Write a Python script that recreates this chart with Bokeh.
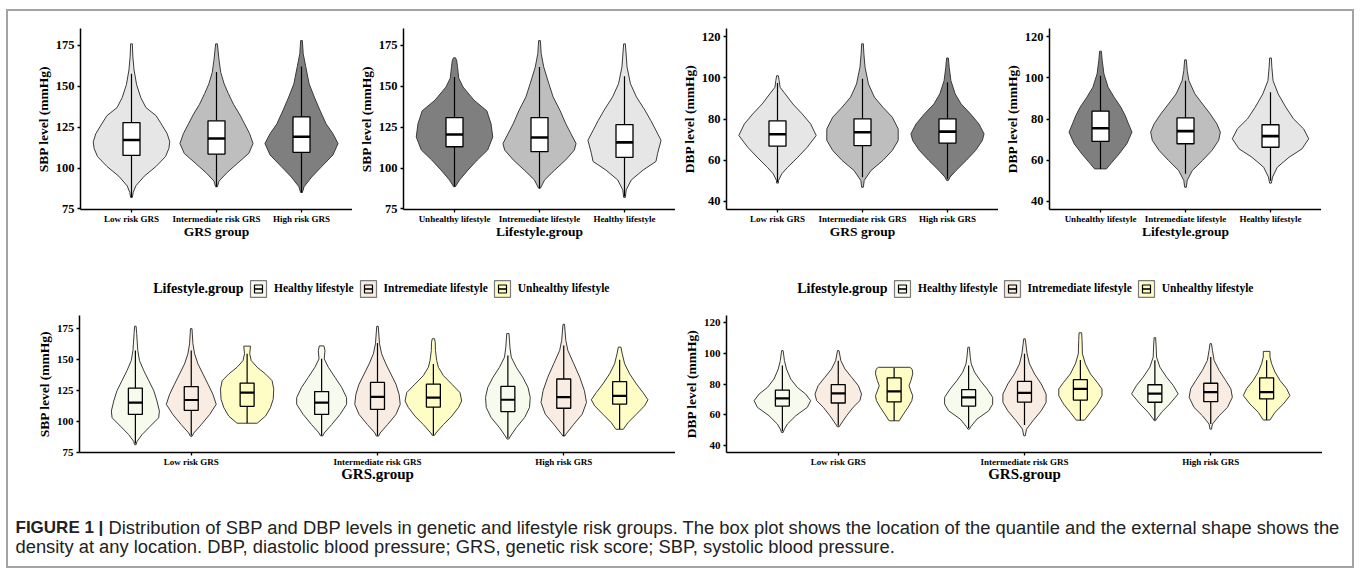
from bokeh.plotting import figure
from bokeh.layouts import column, row
from bokeh.models import FixedTicker, Range1d, Legend, LegendItem, Label
from bokeh.embed import file_html
from bokeh.resources import INLINE

# ---------------- data ----------------
grs_groups = ["Low risk GRS", "Intermediate risk GRS", "High risk GRS"]
life_top_groups = ["Unhealthy lifestyle", "Intremediate lifestyle", "Healthy lifestyle"]
life_groups = ["Healthy lifestyle", "Intremediate lifestyle", "Unhealthy lifestyle"]
legend_title = "Lifestyle.group"
sbp_ticks = [75, 100, 125, 150, 175]
dbp_ticks = [40, 60, 80, 100, 120]

# violin outlines: (blood pressure value, half-width in category units), bottom to top
sbp_grs_low = [(82, 0.01), (85, 0.02), (89, 0.05), (95, 0.15), (101, 0.29), (107, 0.40), (112, 0.44), (116, 0.45),
               (121, 0.42), (127, 0.35), (132, 0.29), (137, 0.17), (143, 0.11), (151, 0.06), (160, 0.03),
               (168, 0.016), (176, 0.01)]
sbp_grs_int = [(88.5, 0.01), (92, 0.03), (97, 0.12), (103, 0.25), (109, 0.38), (115, 0.43), (121, 0.39),
               (127, 0.33), (133, 0.27), (139, 0.20), (145.5, 0.14), (151.5, 0.09), (158.5, 0.05), (166, 0.03),
               (176, 0.01)]
sbp_grs_high = [(85, 0.01), (88.5, 0.03), (94.5, 0.12), (101, 0.24), (108, 0.37), (115, 0.43), (121, 0.37),
                (127, 0.29), (135, 0.22), (143.5, 0.15), (151.5, 0.09), (162, 0.05), (170, 0.02), (178, 0.01)]
sbp_grs_box = [(82, 107.7, 117.1, 127.8, 157.7), (88.6, 108.5, 118.1, 128.9, 158.7), (85, 109.6, 119.1, 131.3, 162.2)]

sbp_life_unh = [(88.6, 0.01), (92.7, 0.06), (98.8, 0.16), (105, 0.27), (111, 0.39), (119, 0.45), (127, 0.43),
                (135, 0.38), (141.5, 0.23), (149.6, 0.10), (155, 0.05), (162, 0.035), (166, 0.025), (167.5, 0.01)]
sbp_life_int = [(87.6, 0.01), (92.7, 0.06), (98.8, 0.18), (105, 0.31), (111, 0.41), (115, 0.43), (121, 0.37),
                (127, 0.31), (135.4, 0.24), (143.5, 0.16), (151.6, 0.11), (161.8, 0.05), (170, 0.02), (178, 0.01)]
sbp_life_hea = [(82, 0.01), (86.6, 0.02), (92.7, 0.08), (98.8, 0.22), (104, 0.37), (109, 0.39), (117, 0.43),
                (123, 0.37), (129, 0.31), (135.4, 0.24), (143.5, 0.14), (151.6, 0.07), (161.8, 0.03), (176, 0.01)]
sbp_life_box = [(88.6, 113, 120.5, 130.9, 155.7), (87.6, 110, 118.7, 130.9, 161.8), (82.5, 106.5, 115.7, 126.6, 156.1)]

dbp_grs_low = [(48.9, 0.01), (50.2, 0.012), (53.4, 0.05), (56.6, 0.12), (61.5, 0.24), (66.3, 0.35), (72, 0.455),
               (77.6, 0.39), (82.5, 0.29), (87.3, 0.18), (92.2, 0.09), (95.4, 0.03), (98.6, 0.02), (101, 0.01)]
dbp_grs_int = [(46.9, 0.01), (50.2, 0.02), (55, 0.10), (59.9, 0.24), (64.7, 0.35), (69.6, 0.42), (75.2, 0.42),
               (80.9, 0.35), (85.7, 0.24), (90.6, 0.14), (97, 0.07), (105.1, 0.03), (111.6, 0.016), (116.5, 0.01)]
dbp_grs_high = [(50.2, 0.01), (51.8, 0.03), (55, 0.10), (59.9, 0.22), (64.7, 0.33), (69.6, 0.41), (72.8, 0.43),
                (77.6, 0.37), (82.5, 0.27), (87.3, 0.16), (92.2, 0.09), (98.6, 0.04), (105.1, 0.02), (109.6, 0.01)]
dbp_grs_box = [(49.4, 66.8, 72.6, 79.1, 97.5), (51.8, 67.1, 73.6, 80.1, 99.5), (51, 68.3, 73.9, 80.1, 97.8)]

dbp_life_unh = [(55.8, 0.07), (58.3, 0.12), (63.1, 0.22), (68, 0.31), (73.6, 0.37), (77.6, 0.33), (81.7, 0.29),
                (85.7, 0.24), (90.6, 0.16), (95.4, 0.09), (101.9, 0.04), (108.4, 0.02), (112.9, 0.01)]
dbp_life_int = [(46.9, 0.01), (50.2, 0.02), (55, 0.08), (59.9, 0.20), (64.7, 0.31), (69.6, 0.39), (73.6, 0.41),
                (77.6, 0.37), (82.5, 0.29), (87.3, 0.20), (92.2, 0.11), (98.6, 0.04), (103.5, 0.02), (108.7, 0.01)]
dbp_life_hea = [(48.9, 0.01), (51.8, 0.024), (56.6, 0.08), (61.5, 0.22), (65.5, 0.37), (70.4, 0.45), (75.2, 0.39),
                (80.1, 0.27), (85.7, 0.18), (92.2, 0.09), (98.6, 0.03), (105.1, 0.016), (109.6, 0.01)]
dbp_life_box = [(55.8, 69.1, 75.5, 83.8, 101), (53.4, 68, 74.1, 80.5, 98.6), (50, 66.3, 71.7, 77.2, 93)]

# bottom panels: GRS group x lifestyle
sbp_low_hea = [(81, 0.004), (83.7, 0.009), (89.2, 0.036), (96, 0.08), (102.8, 0.125), (108.2, 0.129), (116.4, 0.116),
               (124.6, 0.099), (132.8, 0.072), (141, 0.045), (149.1, 0.022), (157.3, 0.013), (170.9, 0.007), (176.9, 0.004)]
sbp_low_int = [(87.8, 0.004), (90.5, 0.014), (97.3, 0.054), (105.5, 0.099), (113.7, 0.134), (121.9, 0.116),
               (130, 0.09), (138.2, 0.063), (146.4, 0.036), (154.6, 0.018), (162.7, 0.009), (175, 0.004)]
sbp_low_unh = [(98.4, 0.054), (104.2, 0.099), (111, 0.125), (117.8, 0.14), (126, 0.143), (132.8, 0.134),
               (138.2, 0.099), (143.7, 0.054), (149.1, 0.022), (154.6, 0.014), (160.8, 0.018)]
sbp_mid_hea = [(88.2, 0.006), (90.5, 0.014), (97.3, 0.054), (105.5, 0.099), (113.7, 0.134), (119.1, 0.134),
               (127.3, 0.108), (135.5, 0.072), (143.7, 0.036), (150.5, 0.014), (157.3, 0.018), (161, 0.012)]
sbp_mid_int = [(88, 0.006), (90.5, 0.014), (97.3, 0.054), (105.5, 0.099), (113.7, 0.122), (121.9, 0.116),
               (130, 0.099), (138.2, 0.072), (146.4, 0.045), (154.6, 0.022), (162.7, 0.011), (176.9, 0.004)]
sbp_mid_unh = [(88.6, 0.006), (90.5, 0.014), (97.3, 0.054), (104.2, 0.099), (111, 0.134), (116.4, 0.152),
               (123.2, 0.143), (130, 0.099), (136.9, 0.054), (143.7, 0.027), (149.1, 0.018), (157.3, 0.011),
               (164, 0.01), (166.8, 0.006)]
sbp_high_hea = [(85.6, 0.005), (88, 0.014), (94.8, 0.045), (103, 0.09), (111.1, 0.116), (119.3, 0.12),
                (127.4, 0.108), (135.6, 0.08), (143.7, 0.045), (151.9, 0.018), (160, 0.011), (171, 0.006)]
sbp_high_int = [(88, 0.005), (90, 0.014), (97.6, 0.054), (105.7, 0.099), (115.2, 0.122), (124.7, 0.111),
                (135.6, 0.086), (146.5, 0.054), (157.3, 0.022), (165.5, 0.011), (178.5, 0.004)]
sbp_high_unh = [(93.5, 0.02), (98.9, 0.045), (105.7, 0.09), (112.5, 0.134), (117.4, 0.152), (123.3, 0.125),
                (130.2, 0.09), (138.3, 0.054), (146.5, 0.027), (154.6, 0.014), (160, 0.007)]
# box stats (lower whisker, Q1, median, Q3, upper whisker) for Low / Intermediate / High risk GRS
sbp_hea_box = [(82, 105.5, 115, 126.8, 157.3), (88.2, 105.5, 115, 124, 150.5), (86.5, 107.8, 117.4, 128.2, 153.2)]
sbp_int_box = [(88.5, 108.8, 117.2, 128.1, 157.3), (88.2, 109.6, 119.7, 131.4, 163.3), (88, 110.5, 119.5, 134.2, 161.4)]
sbp_unh_box = [(98.4, 112.1, 123.2, 130.9, 154.6), (88.6, 111.5, 119.1, 130, 146.4), (93.5, 113.8, 120.6, 132, 149.7)]

dbp_low_hea = [(48.6, 0.004), (50.8, 0.011), (54.1, 0.027), (59.5, 0.072), (64.9, 0.134), (69.2, 0.152),
               (73.5, 0.125), (77.8, 0.08), (83.2, 0.045), (89.7, 0.022), (95.1, 0.011), (101.6, 0.004)]
dbp_low_int = [(52.3, 0.005), (54.1, 0.014), (59.5, 0.045), (64.9, 0.08), (69.2, 0.116), (73.5, 0.125),
               (78.9, 0.108), (84.3, 0.072), (89.7, 0.036), (95.1, 0.014), (101.6, 0.004)]
dbp_low_unh = [(56.2, 0.027), (60.5, 0.05), (65, 0.075), (69.2, 0.095), (72.4, 0.1), (75.5, 0.09), (78.9, 0.08),
               (82.2, 0.09), (86.5, 0.1), (89.5, 0.097), (90.8, 0.085)]
dbp_mid_hea = [(50.8, 0.004), (52.3, 0.011), (57.3, 0.045), (62.7, 0.108), (67, 0.129), (71.4, 0.129),
               (76.8, 0.099), (82.2, 0.063), (87.6, 0.032), (93, 0.014), (97.3, 0.009), (103.8, 0.004)]
dbp_mid_int = [(46.5, 0.004), (50.8, 0.011), (56.2, 0.045), (62.7, 0.09), (68.1, 0.116), (73.5, 0.116),
               (80, 0.09), (86.5, 0.054), (93, 0.027), (99.5, 0.014), (109.2, 0.004)]
dbp_mid_unh = [(56.6, 0.022), (61.6, 0.054), (67, 0.09), (72.4, 0.116), (76.8, 0.116), (81.1, 0.09),
               (86.5, 0.054), (93, 0.027), (99.5, 0.011), (108.1, 0.009), (113.1, 0.007)]
dbp_high_hea = [(56.3, 0.004), (57.4, 0.009), (61.7, 0.036), (67.1, 0.08), (73.6, 0.125), (79, 0.099),
                (84.4, 0.063), (90.9, 0.027), (97.4, 0.009), (103.9, 0.007), (110, 0.004)]
dbp_high_int = [(50.8, 0.004), (54.1, 0.009), (59.5, 0.045), (64.9, 0.09), (71.4, 0.116), (76.9, 0.108),
                (82.3, 0.08), (88.8, 0.045), (95.3, 0.018), (101.8, 0.009), (106.1, 0.004)]
dbp_high_unh = [(56.7, 0.018), (61.7, 0.045), (67.1, 0.09), (72.5, 0.125), (76.9, 0.108), (82.3, 0.072),
                (87.7, 0.045), (93.1, 0.027), (97.4, 0.018), (101.1, 0.018)]
dbp_hea_box = [(49.5, 65.7, 70.7, 76.1, 91.9), (51.5, 65.7, 71.4, 76.3, 91.9), (56.7, 68.2, 73.8, 79.5, 95.3)]
dbp_int_box = [(53, 67.7, 73.9, 79.6, 95.1), (53.5, 68.3, 74.2, 81.7, 99.5), (54.1, 68.6, 74.7, 80.5, 97.4)]
dbp_unh_box = [(56.2, 68.5, 75.2, 83.9, 90.4), (56.6, 69.6, 76.8, 82.8, 95.6), (56.7, 70.4, 74.7, 84, 95.3)]

caption_bold = "FIGURE 1 |"
caption_line1 = ("Distribution of SBP and DBP levels in genetic and lifestyle risk groups. The box plot shows "
                 "the location of the quantile and the external shape shows the")
caption_line2 = ("density at any location. DBP, diastolic blood pressure; GRS, genetic risk score; "
                 "SBP, systolic blood pressure.")

# ---------------- styling ----------------
SERIF = "Liberation Serif"
GREY_FILLS = ["#E6E6E6", "#BEBEBE", "#7F7F7F"]
LIFE_FILLS = ["#F7FBEE", "#F8ECE3", "#FFFDC6"]
OUTLINE = "#3a3a3a"


def violin_xy(cx, prof):
    ys = [v for v, w in prof]
    ws = [w for v, w in prof]
    xs = [cx - w for w in ws] + [cx + w for w in ws[::-1]]
    return xs, ys + ys[::-1]


def base_fig(fw, fh, left, top, bottom, yr):
    p = figure(frame_width=fw, frame_height=fh, min_border_left=left, min_border_right=0,
               min_border_top=top, min_border_bottom=bottom,
               x_range=Range1d(0.4, 3.6), y_range=Range1d(*yr),
               output_backend="svg", toolbar_location=None, tools="")
    p.outline_line_color = None
    p.xgrid.visible = False
    p.ygrid.visible = False
    p.background_fill_color = "white"
    p.border_fill_color = "white"
    return p


def blank_fig(w, h):
    p = figure(width=w, height=h, min_border=0, x_range=Range1d(0, 1), y_range=Range1d(0, 1),
               output_backend="svg", toolbar_location=None, tools="")
    p.axis.visible = False
    p.xgrid.visible = False
    p.ygrid.visible = False
    p.outline_line_color = None
    return p


def style_axes(p, xlabels, yticks, xtitle, ytitle, ytick_size, xtitle_size, ytitle_size, xtitle_standoff):
    p.xaxis.ticker = FixedTicker(ticks=[1, 2, 3])
    p.xaxis.major_label_overrides = {1: xlabels[0], 2: xlabels[1], 3: xlabels[2]}
    p.yaxis.ticker = FixedTicker(ticks=yticks)
    p.xaxis.axis_label = xtitle
    p.yaxis.axis_label = ytitle
    p.axis.axis_line_color = "black"
    p.axis.axis_line_width = 1.5
    p.axis.major_tick_line_color = "black"
    p.axis.major_tick_line_width = 1.3
    p.axis.major_tick_out = 3
    p.axis.major_tick_in = 0
    p.axis.minor_tick_line_color = None
    p.axis.major_label_text_font = SERIF
    p.axis.major_label_text_font_style = "bold"
    p.axis.major_label_text_color = "black"
    p.axis.axis_label_text_font = SERIF
    p.axis.axis_label_text_font_style = "bold"
    p.axis.axis_label_text_color = "black"
    p.xaxis.major_label_text_font_size = "9px"
    p.yaxis.major_label_text_font_size = ytick_size
    p.xaxis.axis_label_text_font_size = xtitle_size
    p.yaxis.axis_label_text_font_size = ytitle_size
    p.xaxis.major_label_standoff = 1
    p.yaxis.major_label_standoff = 3
    p.xaxis.axis_label_standoff = xtitle_standoff
    p.yaxis.axis_label_standoff = 2


def draw_boxes(p, cx, boxes, bw, fill, med_w):
    lo = [b[0] for b in boxes]
    q1 = [b[1] for b in boxes]
    md = [b[2] for b in boxes]
    q3 = [b[3] for b in boxes]
    hi = [b[4] for b in boxes]
    left = [c - bw / 2 for c in cx]
    right = [c + bw / 2 for c in cx]
    p.segment(cx, lo, cx, q1, line_color="black", line_width=1.2)
    p.segment(cx, q3, cx, hi, line_color="black", line_width=1.2)
    p.quad(left=left, right=right, bottom=q1, top=q3, fill_color=fill, line_color="black", line_width=1.3)
    return p.segment(left, md, right, md, line_color="black", line_width=med_w)


def top_panel(profiles, boxes, xlabels, fills, yr, yticks, xtitle, ytitle, left):
    p = base_fig(272, 181, left, 17, 42, yr)
    pairs = [violin_xy(i + 1, pr) for i, pr in enumerate(profiles)]
    p.patches([a for a, b in pairs], [b for a, b in pairs], fill_color=fills, line_color=OUTLINE, line_width=1)
    draw_boxes(p, [1, 2, 3], boxes, 0.2, "white", 2.6)
    style_axes(p, xlabels, yticks, xtitle, ytitle, "12.5px", "13.5px", "13.5px", -3)
    return p


def bottom_panel(profile_sets, box_sets, yr, yticks, ytitle, left):
    p = base_fig(596, 137, left, 4, 41, yr)
    for j in range(3):
        cx = [g + 1 + (j - 1) * 0.3 for g in range(3)]
        pairs = [violin_xy(c, pr) for c, pr in zip(cx, profile_sets[j])]
        p.patches([a for a, b in pairs], [b for a, b in pairs], fill_color=LIFE_FILLS[j],
                  line_color=OUTLINE, line_width=1)
        draw_boxes(p, cx, box_sets[j], 0.075, LIFE_FILLS[j], 2.2)
    style_axes(p, grs_groups, yticks, "GRS.group", ytitle, "11px", "15px", "13.5px", -4)
    return p


def add_legend(strip, key_x, proxy_profiles, proxy_boxes):
    # hidden proxy renderers (built from the panel data) carry the key styling for the legend
    items = []
    for j in range(3):
        xs, ys = violin_xy(0.5, proxy_profiles[j])
        med = proxy_boxes[j][0][2]
        vr = strip.patches([xs], [ys], fill_color=LIFE_FILLS[j], line_color="#7a7a7a", line_width=1.2)
        br = strip.scatter([0.5], [med], marker="square", size=8, fill_color=LIFE_FILLS[j],
                           line_color="black", line_width=1.2)
        mr = strip.scatter([0.5], [med], marker="dash", size=8, line_color="black", line_width=1.6)
        for r in (vr, br, mr):
            r.visible = False
        items.append(LegendItem(label=life_groups[j], renderers=[vr, br, mr]))
    leg = Legend(items=items, orientation="horizontal", location=(key_x, 12.5),
                 glyph_width=20, glyph_height=21, label_height=21, label_standoff=6, spacing=4,
                 padding=0, margin=0, border_line_color=None, background_fill_alpha=0,
                 inactive_fill_alpha=0, label_text_font=SERIF, label_text_font_style="bold",
                 label_text_font_size="11.5px", label_text_color="black")
    strip.add_layout(leg)
    strip.add_layout(Label(x=key_x - 5, y=23, x_units="screen", y_units="screen", text=legend_title,
                           text_align="right", text_baseline="middle", text_font=SERIF,
                           text_font_style="bold", text_font_size="14px", text_color="black"))


f1 = top_panel([sbp_grs_low, sbp_grs_int, sbp_grs_high], sbp_grs_box, grs_groups, GREY_FILLS,
               (74.6, 185.4), sbp_ticks, "GRS group", "SBP level (mmHg)", 72)
f2 = top_panel([sbp_life_unh, sbp_life_int, sbp_life_hea], sbp_life_box, life_top_groups, GREY_FILLS[::-1],
               (74.6, 185.4), sbp_ticks, "Lifestyle.group", "SBP level (mmHg)", 51)
f3 = top_panel([dbp_grs_low, dbp_grs_int, dbp_grs_high], dbp_grs_box, grs_groups, GREY_FILLS,
               (36.1, 123.9), dbp_ticks, "GRS group", "DBP level (mmHg)", 51)
f4 = top_panel([dbp_life_unh, dbp_life_int, dbp_life_hea], dbp_life_box, life_top_groups, GREY_FILLS[::-1],
               (36.1, 123.9), dbp_ticks, "Lifestyle.group", "DBP level (mmHg)", 51)

strip = blank_fig(1344, 60)
add_legend(strip, 240, [sbp_low_hea, sbp_low_int, sbp_low_unh], [sbp_hea_box, sbp_int_box, sbp_unh_box])
add_legend(strip, 884, [dbp_low_hea, dbp_low_int, dbp_low_unh], [dbp_hea_box, dbp_int_box, dbp_unh_box])

f5 = bottom_panel([[sbp_low_hea, sbp_mid_hea, sbp_high_hea],
                   [sbp_low_int, sbp_mid_int, sbp_high_int],
                   [sbp_low_unh, sbp_mid_unh, sbp_high_unh]],
                  [sbp_hea_box, sbp_int_box, sbp_unh_box], (74.7, 185.6), sbp_ticks, "SBP level (mmHg)", 71)
f6 = bottom_panel([[dbp_low_hea, dbp_mid_hea, dbp_high_hea],
                   [dbp_low_int, dbp_mid_int, dbp_high_int],
                   [dbp_low_unh, dbp_mid_unh, dbp_high_unh]],
                  [dbp_hea_box, dbp_int_box, dbp_unh_box], (35.7, 124.3), dbp_ticks, "DBP level (mmHg)", 51)

cap = blank_fig(1344, 73)
CAP_FONT = "Liberation Sans"
cap.add_layout(Label(x=7, y=39, x_units="screen", y_units="screen", text=caption_bold, text_font=CAP_FONT,
                     text_font_style="bold", text_font_size="17px", text_baseline="middle", text_color="#222222"))
cap.add_layout(Label(x=100, y=39, x_units="screen", y_units="screen", text=caption_line1, text_font=CAP_FONT,
                     text_font_size="18.35px", text_baseline="middle", text_color="#222222"))
cap.add_layout(Label(x=7, y=20, x_units="screen", y_units="screen", text=caption_line2, text_font=CAP_FONT,
                     text_font_size="18.35px", text_baseline="middle", text_color="#222222"))

layout = column(row(f1, f2, f3, f4), strip, row(f5, f6), cap,
                styles={"border": "2px solid #a3a3a3", "margin-left": "6px", "margin-top": "9px"})

open("out.html", "w").write(file_html(layout, INLINE))
